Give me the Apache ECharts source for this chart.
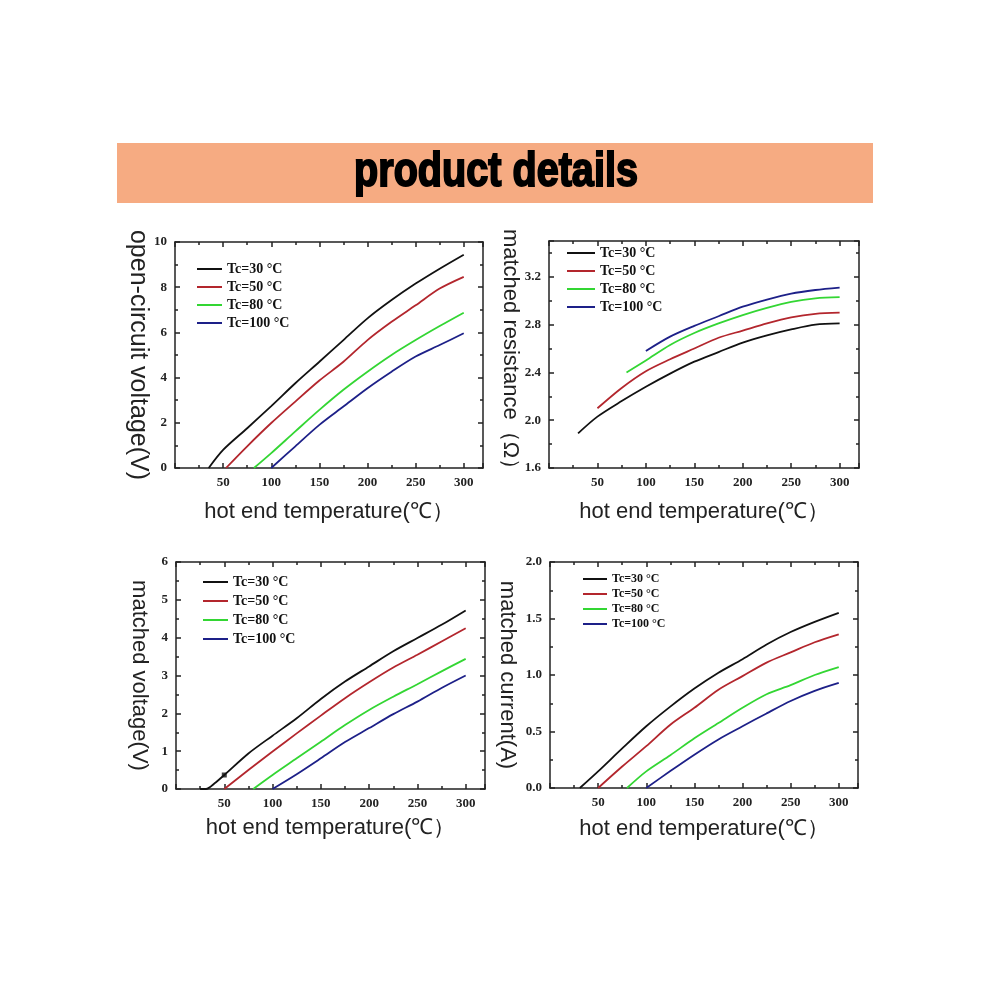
<!DOCTYPE html>
<html><head><meta charset="utf-8">
<script src="https://cdn.jsdelivr.net/npm/echarts@6/dist/echarts.min.js"></script>
<style>html,body{margin:0;padding:0;background:#fff}#c{width:990px;height:990px}</style>
</head><body><div id="c"></div>
<script>
// ---------- data ----------
const bannerText = 'product details';
const xAxisName = 'hot end temperature(℃）';
const seriesNames = ['Tc=30 °C', 'Tc=50 °C', 'Tc=80 °C', 'Tc=100 °C'];
const xTickLabels = [50, 100, 150, 200, 250, 300];

// Panel 1: open-circuit voltage (V)
const ocvX30 = [35, 50, 75, 100, 125, 150, 175, 200, 225, 250, 275, 300];
const ocvY30 = [0, 0.8, 1.76, 2.74, 3.75, 4.7, 5.66, 6.62, 7.43, 8.16, 8.82, 9.44];
const ocvX50 = [53, 75, 100, 125, 150, 175, 200, 225, 250, 275, 300];
const ocvY50 = [0, 0.96, 1.99, 2.94, 3.87, 4.7, 5.66, 6.47, 7.2, 7.94, 8.46];
const ocvX80 = [82, 100, 125, 150, 175, 200, 225, 250, 275, 300];
const ocvY80 = [0, 0.66, 1.62, 2.57, 3.46, 4.26, 5.0, 5.66, 6.28, 6.87];
const ocvX100 = [100, 125, 150, 175, 200, 225, 250, 275, 300];
const ocvY100 = [0, 0.96, 1.91, 2.72, 3.53, 4.26, 4.93, 5.44, 5.96];
const ocvYTicks = [0, 2, 4, 6, 8, 10];

// Panel 2: matched resistance (Ω)
const resX30 = [30, 50, 75, 100, 125, 150, 175, 200, 225, 250, 275, 300];
const resY30 = [1.89, 2.03, 2.16, 2.28, 2.39, 2.49, 2.57, 2.65, 2.71, 2.76, 2.8, 2.81];
const resX50 = [50, 75, 100, 125, 150, 175, 200, 225, 250, 275, 300];
const resY50 = [2.1, 2.27, 2.41, 2.51, 2.6, 2.69, 2.75, 2.81, 2.86, 2.89, 2.9];
const resX80 = [80, 100, 125, 150, 175, 200, 225, 250, 275, 300];
const resY80 = [2.4, 2.5, 2.63, 2.73, 2.81, 2.88, 2.94, 2.99, 3.02, 3.03];
const resX100 = [100, 125, 150, 175, 200, 225, 250, 275, 300];
const resY100 = [2.58, 2.7, 2.79, 2.87, 2.95, 3.01, 3.06, 3.09, 3.11];
const resYTicks = [1.6, 2.0, 2.4, 2.8, 3.2];

// Panel 3: matched voltage (V)
const mvX30 = [25, 31, 40, 50, 75, 100, 125, 150, 175, 200, 225, 250, 275, 300];
const mvY30 = [0, 0, 0.15, 0.37, 0.94, 1.41, 1.87, 2.38, 2.84, 3.24, 3.64, 3.99, 4.34, 4.72];
const mvX50 = [50, 75, 100, 125, 150, 175, 200, 225, 250, 275, 300];
const mvY50 = [0, 0.5, 0.99, 1.47, 1.94, 2.4, 2.82, 3.21, 3.55, 3.9, 4.25];
const mvX80 = [80, 100, 125, 150, 175, 200, 225, 250, 275, 300];
const mvY80 = [0, 0.37, 0.81, 1.25, 1.69, 2.09, 2.44, 2.77, 3.11, 3.44];
const mvX100 = [100, 125, 150, 175, 200, 225, 250, 275, 300];
const mvY100 = [0, 0.39, 0.81, 1.24, 1.61, 1.98, 2.31, 2.67, 3.0];
const mvYTicks = [0, 1, 2, 3, 4, 5, 6];

// Panel 4: matched current (A)
const mcX30 = [31, 50, 75, 100, 125, 150, 175, 200, 225, 250, 275, 300];
const mcY30 = [0, 0.147, 0.35, 0.546, 0.72, 0.88, 1.02, 1.14, 1.27, 1.38, 1.47, 1.55];
const mcX50 = [50, 75, 100, 125, 150, 175, 200, 225, 250, 275, 300];
const mcY50 = [0, 0.19, 0.37, 0.56, 0.71, 0.87, 0.99, 1.11, 1.2, 1.29, 1.36];
const mcX80 = [80, 100, 125, 150, 175, 200, 225, 250, 275, 300];
const mcY80 = [0, 0.147, 0.29, 0.44, 0.575, 0.71, 0.83, 0.91, 1.0, 1.07];
const mcX100 = [100, 125, 150, 175, 200, 225, 250, 275, 300];
const mcY100 = [0, 0.15, 0.295, 0.43, 0.546, 0.66, 0.77, 0.86, 0.93];
const mcYTicks = [0, 0.5, 1.0, 1.5, 2.0];

// ---------- styling / layout ----------
const colors = ['#111111', '#b3262d', '#33d633', '#1d2088'];
const pair = (xs, ys) => xs.map((x, i) => [x, ys[i]]);

const panels = [
  { grid: { left: 175, top: 242, width: 308, height: 226 }, yMin: 0, yMax: 10, yInt: 2, yTicks: ocvYTicks, dec: 0,
    yName: 'open-circuit voltage(V)', yFont: 25, yGap: 25, xGap: 33,
    legend: { left: 197, top: 262, fontSize: 14, gap: 4, iw: 25 },
    data: [pair(ocvX30, ocvY30), pair(ocvX50, ocvY50), pair(ocvX80, ocvY80), pair(ocvX100, ocvY100)] },
  { grid: { left: 549, top: 241, width: 310, height: 227 }, yMin: 1.6, yMax: 3.5, yInt: 0.4, yTicks: resYTicks, dec: 1,
    yName: 'matched resistance（Ω）', yFont: 22, yGap: 28, xGap: 33,
    legend: { left: 567, top: 246, fontSize: 14, gap: 4, iw: 28 },
    data: [pair(resX30, resY30), pair(resX50, resY50), pair(resX80, resY80), pair(resX100, resY100)] },
  { grid: { left: 176, top: 562, width: 309, height: 227 }, yMin: 0, yMax: 6, yInt: 1, yTicks: mvYTicks, dec: 0,
    yName: 'matched voltage(V)', yFont: 22, yGap: 26, xGap: 28,
    legend: { left: 203, top: 575, fontSize: 14, gap: 5, iw: 25 },
    data: [pair(mvX30, mvY30), pair(mvX50, mvY50), pair(mvX80, mvY80), pair(mvX100, mvY100)] },
  { grid: { left: 550, top: 562, width: 308, height: 226 }, yMin: 0, yMax: 2, yInt: 0.5, yTicks: mcYTicks, dec: 1,
    yName: 'matched current(A)', yFont: 22, yGap: 32, xGap: 30,
    legend: { left: 583, top: 573, fontSize: 12, gap: 3, iw: 24 },
    data: [pair(mcX30, mcY30), pair(mcX50, mcY50), pair(mcX80, mcY80), pair(mcX100, mcY100)] }
];

const labelFont = { fontFamily: 'Liberation Serif', fontWeight: 'bold', fontSize: 13, color: '#222' };
const lineStyle = { color: '#222', width: 1.5 };

const grids = [], xAxes = [], yAxes = [], series = [], legends = [];
panels.forEach((p, gi) => {
  grids.push(Object.assign({ containLabel: false }, p.grid));
  const xi = xAxes.length, yi = yAxes.length;
  const xBase = {
    type: 'value', gridIndex: gi, min: 0, max: 320, interval: 50,
    splitLine: { show: false },
    axisLine: { show: true, onZero: false, lineStyle },
    axisTick: { show: true, inside: true, length: 5, lineStyle },
    minorTick: { show: true, splitNumber: 2, length: 3, lineStyle }
  };
  xAxes.push(Object.assign({}, xBase, {
    position: 'bottom',
    name: xAxisName, nameLocation: 'middle', nameGap: p.xGap,
    nameTextStyle: { fontFamily: 'Liberation Sans', fontSize: 22, color: '#222' },
    axisLabel: Object.assign({ margin: 8, formatter: v => xTickLabels.includes(v) ? String(v) : '' }, labelFont)
  }));
  xAxes.push(Object.assign({}, xBase, { position: 'top', axisLabel: { show: false } }));
  const yBase = {
    type: 'value', gridIndex: gi, min: p.yMin, max: p.yMax, interval: p.yInt,
    splitLine: { show: false },
    axisLine: { show: true, onZero: false, lineStyle },
    axisTick: { show: true, inside: true, length: 5, lineStyle },
    minorTick: { show: true, splitNumber: 2, length: 3, lineStyle }
  };
  yAxes.push(Object.assign({}, yBase, {
    position: 'left',
    name: p.yName, nameLocation: 'middle', nameGap: p.yGap, nameRotate: -90,
    nameTextStyle: { fontFamily: 'Liberation Sans', fontSize: p.yFont, color: '#222' },
    axisLabel: Object.assign({ margin: 8, formatter: v => {
      const hit = p.yTicks.some(t => Math.abs(t - v) < 1e-6);
      return hit ? v.toFixed(p.dec) : '';
    } }, labelFont)
  }));
  yAxes.push(Object.assign({}, yBase, { position: 'right', axisLabel: { show: false } }));

  p.data.forEach((d, si) => {
    series.push({
      type: 'line', name: seriesNames[si], xAxisIndex: xi, yAxisIndex: yi,
      data: d, smooth: 0.3, showSymbol: false, symbol: 'none',
      lineStyle: { color: colors[si], width: 1.8 }, itemStyle: { color: colors[si] },
      silent: true, animation: false
    });
  });
  legends.push({
    orient: 'vertical', left: p.legend.left, top: p.legend.top,
    itemWidth: p.legend.iw, itemHeight: 2, itemGap: p.legend.gap, icon: 'rect',
    data: seriesNames, selectedMode: false, padding: 0,
    textStyle: { fontFamily: 'Liberation Serif', fontWeight: 'bold', fontSize: p.legend.fontSize, color: '#111' }
  });
});

// small marker on matched-voltage Tc=30 curve at 50
series.push({
  type: 'scatter', xAxisIndex: 4, yAxisIndex: 4, data: [[50, 0.37]],
  symbol: 'rect', symbolSize: 5, itemStyle: { color: '#111' }, silent: true, animation: false
});

const chart = echarts.init(document.getElementById('c'), null, { renderer: 'canvas' });
chart.setOption({
  backgroundColor: '#ffffff',
  animation: false,
  grid: grids, xAxis: xAxes, yAxis: yAxes, series, legend: legends,
  graphic: [
    { type: 'rect', shape: { x: 117, y: 143, width: 756, height: 60 }, style: { fill: '#F6AB82' }, z: 0 },
    { type: 'text', x: 496, y: 173, scaleX: 0.9, scaleY: 1.08,
      style: { text: bannerText, font: 'bold 44px "Liberation Sans", Arial, sans-serif', fill: '#000',
               stroke: '#000', lineWidth: 1.8, textAlign: 'center', textVerticalAlign: 'middle' }, z: 10 }
  ]
});
</script></body></html>
